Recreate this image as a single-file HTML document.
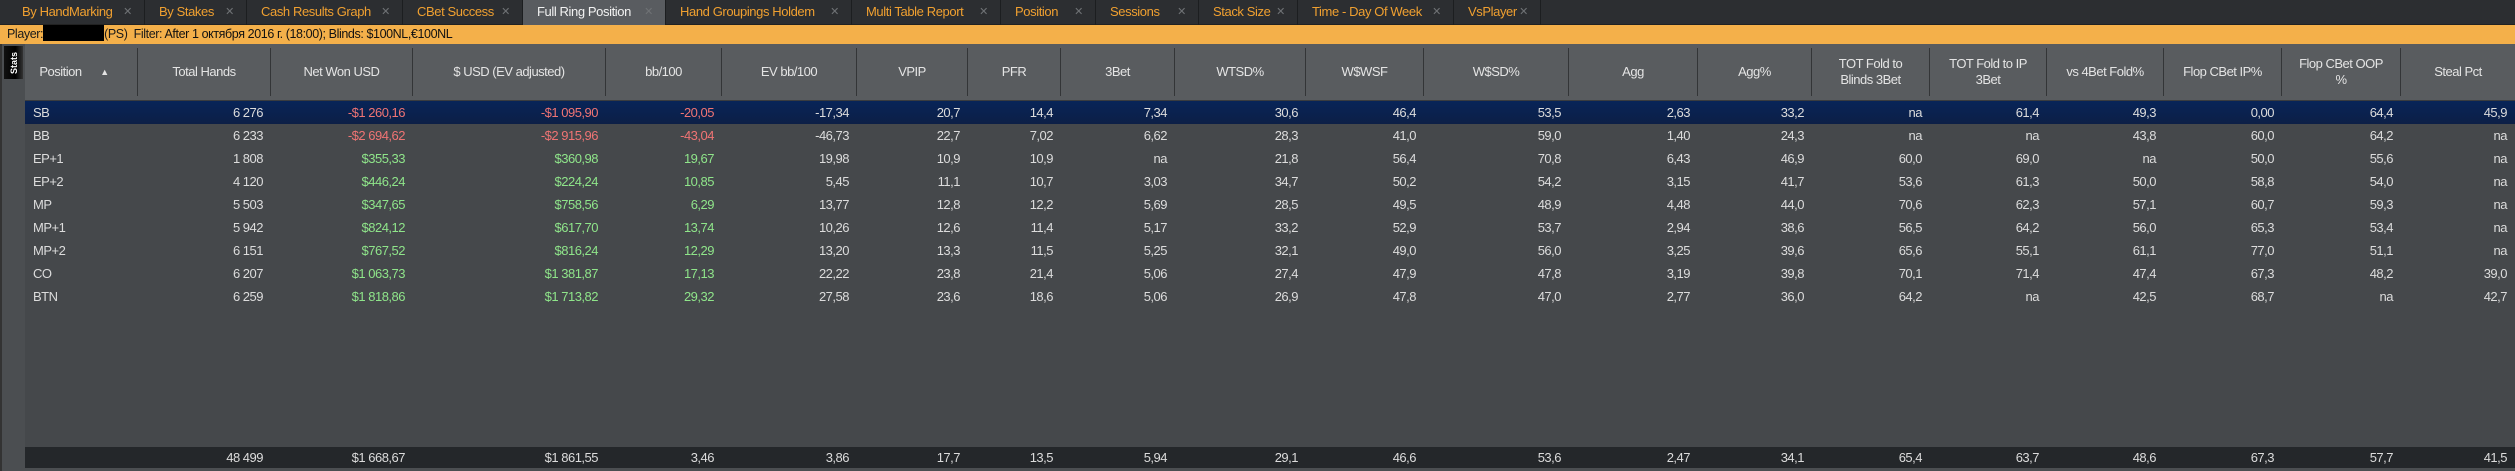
<!DOCTYPE html>
<html><head><meta charset="utf-8">
<style>
*{margin:0;padding:0;box-sizing:border-box}
body{width:2515px;height:471px;background:#45484b;font-family:"Liberation Sans",sans-serif;font-size:13px;letter-spacing:-0.5px;color:#dcdcdc;position:relative;overflow:hidden}
#tabs{position:absolute;left:0;top:0;width:2515px;height:25px;background:#2c2e31;border-bottom:1px solid #222}
.tab{position:absolute;top:0;height:25px;border-right:1px solid #1c1e20;color:#f0a030;font-size:13px;letter-spacing:-0.4px;line-height:24px;padding-left:14px;white-space:nowrap}
.tab i{font-style:normal;color:#6f7275;font-size:11px;position:absolute;right:12px;top:0}
.tab.act{background:#595c60;color:#f2f2f2}
#filter{position:absolute;left:0;top:25px;width:2515px;height:19px;background:#f4b04a;color:#1a1a1a;font-size:12.5px;letter-spacing:-0.4px;line-height:19px;padding-left:7px;white-space:nowrap}
#filter b{font-weight:normal;color:#111}
#blk{display:inline-block;width:61px;height:16px;background:#000;vertical-align:-3px}
#strip{position:absolute;left:0;top:44px;width:25px;height:427px;background:#4b4e51;border-left:2px solid #333}
#stats{position:absolute;left:4px;top:46px;width:19px;height:33px;background:linear-gradient(90deg,#111,#000 60%,#333);color:#fff;font-size:9px;letter-spacing:0;font-weight:bold}
#stats span{position:absolute;left:50%;top:50%;transform:translate(-50%,-50%) rotate(-90deg);white-space:nowrap}
#hdr{position:absolute;left:25px;top:44px;width:2490px;height:57px;background:#595c5f;border-bottom:1px solid #3a3c3f}
.row{position:absolute;left:25px;width:2490px;height:23px;display:grid;grid-template-columns:113px 133px 142px 193px 116px 135px 111px 93px 114px 131px 118px 145px 129px 114px 118px 117px 117px 118px 119px 114px;line-height:23px}
.row div{text-align:right;padding-right:8px;white-space:nowrap}
.row div:first-child{text-align:left;padding-left:8px}
.sel{background:linear-gradient(#082458,#0c1f46)}
.r{color:#f07474}.g{color:#8fe58a}
#hdr .row{top:0;left:0;height:57px;line-height:16px}
#hdr .row div{text-align:center;padding:0 14px;white-space:normal;border-right:1px solid #333537;height:48px;margin-top:4px;display:flex;align-items:center;justify-content:center;color:#e4e4e4}
#hdr .row div:first-child{padding-left:0}
#foot{position:absolute;left:25px;top:447px;width:2490px;height:21px;background:#24272a}
#foot .row{top:0;height:21px;line-height:21px;left:0}
#bot{position:absolute;left:25px;top:468px;width:2490px;height:3px;background:#4b4e51}
</style></head><body>
<div id="tabs">
<div class="tab" style="left:8px;width:137px">By HandMarking<i>✕</i></div>
<div class="tab" style="left:145px;width:102px">By Stakes<i>✕</i></div>
<div class="tab" style="left:247px;width:156px">Cash Results Graph<i>✕</i></div>
<div class="tab" style="left:403px;width:120px">CBet Success<i>✕</i></div>
<div class="tab act" style="left:523px;width:143px">Full Ring Position<i>✕</i></div>
<div class="tab" style="left:666px;width:186px">Hand Groupings Holdem<i>✕</i></div>
<div class="tab" style="left:852px;width:149px">Multi Table Report<i>✕</i></div>
<div class="tab" style="left:1001px;width:95px">Position<i>✕</i></div>
<div class="tab" style="left:1096px;width:103px">Sessions<i>✕</i></div>
<div class="tab" style="left:1199px;width:99px">Stack Size<i>✕</i></div>
<div class="tab" style="left:1298px;width:156px">Time - Day Of Week<i>✕</i></div>
<div class="tab" style="left:1454px;width:87px">VsPlayer<i>✕</i></div>
</div>
<div id="filter">Player:<span id="blk"></span>(PS) &nbsp;Filter: <b>After 1 октября 2016 г. (18:00); Blinds: $100NL,€100NL</b></div>
<div id="strip"></div>
<div id="stats"><span>Stats</span></div>
<div id="hdr"><div class="row">
<div>Position&nbsp;&nbsp;&nbsp;&nbsp;&nbsp;&nbsp;<span style="font-size:9px">▲</span></div><div>Total Hands</div><div>Net Won USD</div><div>$ USD (EV adjusted)</div><div>bb/100</div><div>EV bb/100</div><div>VPIP</div><div>PFR</div><div>3Bet</div><div>WTSD%</div><div>W$WSF</div><div>W$SD%</div><div>Agg</div><div>Agg%</div><div>TOT Fold to Blinds 3Bet</div><div>TOT Fold to IP 3Bet</div><div>vs 4Bet Fold%</div><div>Flop CBet IP%</div><div>Flop CBet OOP %</div><div style="border-right:none">Steal Pct</div>
</div></div>

<div class="row sel" style="top:101px"><div>SB</div><div>6 276</div><div class="r">-$1 260,16</div><div class="r">-$1 095,90</div><div class="r">-20,05</div><div>-17,34</div><div>20,7</div><div>14,4</div><div>7,34</div><div>30,6</div><div>46,4</div><div>53,5</div><div>2,63</div><div>33,2</div><div>na</div><div>61,4</div><div>49,3</div><div>0,00</div><div>64,4</div><div>45,9</div></div>
<div class="row" style="top:124px"><div>BB</div><div>6 233</div><div class="r">-$2 694,62</div><div class="r">-$2 915,96</div><div class="r">-43,04</div><div>-46,73</div><div>22,7</div><div>7,02</div><div>6,62</div><div>28,3</div><div>41,0</div><div>59,0</div><div>1,40</div><div>24,3</div><div>na</div><div>na</div><div>43,8</div><div>60,0</div><div>64,2</div><div>na</div></div>
<div class="row" style="top:147px"><div>EP+1</div><div>1 808</div><div class="g">$355,33</div><div class="g">$360,98</div><div class="g">19,67</div><div>19,98</div><div>10,9</div><div>10,9</div><div>na</div><div>21,8</div><div>56,4</div><div>70,8</div><div>6,43</div><div>46,9</div><div>60,0</div><div>69,0</div><div>na</div><div>50,0</div><div>55,6</div><div>na</div></div>
<div class="row" style="top:170px"><div>EP+2</div><div>4 120</div><div class="g">$446,24</div><div class="g">$224,24</div><div class="g">10,85</div><div>5,45</div><div>11,1</div><div>10,7</div><div>3,03</div><div>34,7</div><div>50,2</div><div>54,2</div><div>3,15</div><div>41,7</div><div>53,6</div><div>61,3</div><div>50,0</div><div>58,8</div><div>54,0</div><div>na</div></div>
<div class="row" style="top:193px"><div>MP</div><div>5 503</div><div class="g">$347,65</div><div class="g">$758,56</div><div class="g">6,29</div><div>13,77</div><div>12,8</div><div>12,2</div><div>5,69</div><div>28,5</div><div>49,5</div><div>48,9</div><div>4,48</div><div>44,0</div><div>70,6</div><div>62,3</div><div>57,1</div><div>60,7</div><div>59,3</div><div>na</div></div>
<div class="row" style="top:216px"><div>MP+1</div><div>5 942</div><div class="g">$824,12</div><div class="g">$617,70</div><div class="g">13,74</div><div>10,26</div><div>12,6</div><div>11,4</div><div>5,17</div><div>33,2</div><div>52,9</div><div>53,7</div><div>2,94</div><div>38,6</div><div>56,5</div><div>64,2</div><div>56,0</div><div>65,3</div><div>53,4</div><div>na</div></div>
<div class="row" style="top:239px"><div>MP+2</div><div>6 151</div><div class="g">$767,52</div><div class="g">$816,24</div><div class="g">12,29</div><div>13,20</div><div>13,3</div><div>11,5</div><div>5,25</div><div>32,1</div><div>49,0</div><div>56,0</div><div>3,25</div><div>39,6</div><div>65,6</div><div>55,1</div><div>61,1</div><div>77,0</div><div>51,1</div><div>na</div></div>
<div class="row" style="top:262px"><div>CO</div><div>6 207</div><div class="g">$1 063,73</div><div class="g">$1 381,87</div><div class="g">17,13</div><div>22,22</div><div>23,8</div><div>21,4</div><div>5,06</div><div>27,4</div><div>47,9</div><div>47,8</div><div>3,19</div><div>39,8</div><div>70,1</div><div>71,4</div><div>47,4</div><div>67,3</div><div>48,2</div><div>39,0</div></div>
<div class="row" style="top:285px"><div>BTN</div><div>6 259</div><div class="g">$1 818,86</div><div class="g">$1 713,82</div><div class="g">29,32</div><div>27,58</div><div>23,6</div><div>18,6</div><div>5,06</div><div>26,9</div><div>47,8</div><div>47,0</div><div>2,77</div><div>36,0</div><div>64,2</div><div>na</div><div>42,5</div><div>68,7</div><div>na</div><div>42,7</div></div>

<div id="foot"><div class="row"><div></div><div>48 499</div><div>$1 668,67</div><div>$1 861,55</div><div>3,46</div><div>3,86</div><div>17,7</div><div>13,5</div><div>5,94</div><div>29,1</div><div>46,6</div><div>53,6</div><div>2,47</div><div>34,1</div><div>65,4</div><div>63,7</div><div>48,6</div><div>67,3</div><div>57,7</div><div>41,5</div></div></div>
<div id="bot"></div>
</body></html>
